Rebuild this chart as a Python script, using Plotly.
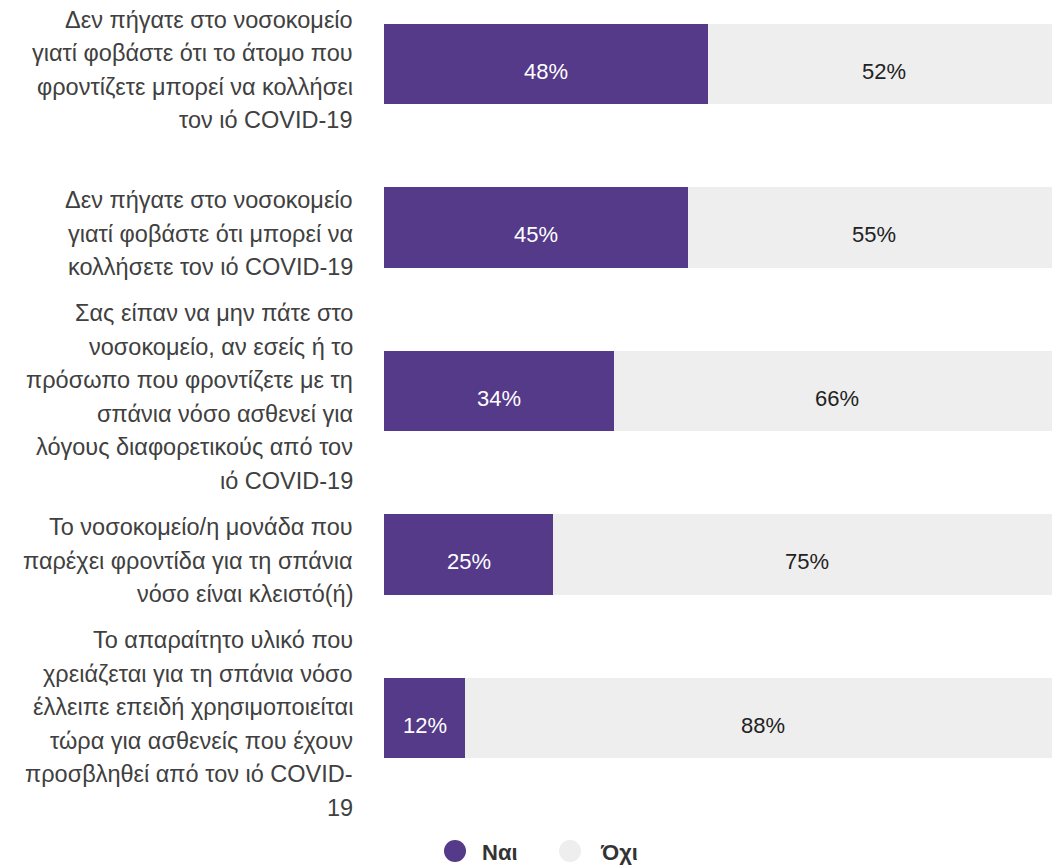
import plotly.graph_objects as go

# categories (top to bottom), wrapped as in the original
categories = [
    "Δεν πήγατε στο νοσοκομείο<br>γιατί φοβάστε ότι το άτομο που<br>φροντίζετε μπορεί να κολλήσει<br>τον ιό COVID-19",
    "Δεν πήγατε στο νοσοκομείο<br>γιατί φοβάστε ότι μπορεί να<br>κολλήσετε τον ιό COVID-19",
    "Σας είπαν να μην πάτε στο<br>νοσοκομείο, αν εσείς ή το<br>πρόσωπο που φροντίζετε με τη<br>σπάνια νόσο ασθενεί για<br>λόγους διαφορετικούς από τον<br>ιό COVID-19",
    "Το νοσοκομείο/η μονάδα που<br>παρέχει φροντίδα για τη σπάνια<br>νόσο είναι κλειστό(ή)",
    "Το απαραίτητο υλικό που<br>χρειάζεται για τη σπάνια νόσο<br>έλλειπε επειδή χρησιμοποιείται<br>τώρα για ασθενείς που έχουν<br>προσβληθεί από τον ιό COVID-<br>19",
]
yes_vals = [48, 45, 34, 25, 12]
no_vals = [52, 55, 66, 75, 88]
series_names = ["Ναι", "Όχι"]

PURPLE = "#553a8a"
GREY = "#eeeeee"
FONT = "Liberation Sans, Arial, sans-serif"
LINE_H = 33.5

# figure geometry (page has an 8px body margin)
W, H = 1052, 858
ML, MB = 376, 58
PW, PH = W - ML, H - MB

ypos = list(range(len(categories)))

fig = go.Figure()
fig.add_trace(go.Bar(
    y=ypos, x=yes_vals, orientation="h", name=series_names[0],
    marker=dict(color=PURPLE, line=dict(width=0)),
    showlegend=False, hoverinfo="skip",
))
fig.add_trace(go.Bar(
    y=ypos, x=no_vals, orientation="h", name=series_names[1],
    marker=dict(color=GREY, line=dict(width=0)),
    showlegend=False, hoverinfo="skip",
))

# value labels in the middle of each segment, sitting a little low like the original
for yi, a, b in zip(ypos, yes_vals, no_vals):
    for xc, v, col in [(a / 2, a, "white"), (a + b / 2, b, "#222222")]:
        fig.add_annotation(
            x=xc, y=yi, xref="x", yref="y", yshift=-7,
            text=f"{v}%", showarrow=False,
            font=dict(size=22, color=col, family=FONT),
        )

# category labels, one annotation per line so the line spacing matches
for yi, cat in zip(ypos, categories):
    lines = cat.split("<br>")
    n = len(lines)
    for i, ln in enumerate(lines):
        fig.add_annotation(
            x=0, xref="paper", xanchor="right", xshift=-29,
            y=yi, yref="y", yanchor="middle",
            yshift=((n - 1) / 2 - i) * LINE_H - 6,
            text=ln, showarrow=False,
            font=dict(size=23.5, color="#404040", family=FONT),
        )

# legend drawn by hand: round markers below the chart
def px_x(p):
    return (p - 8 - ML) / PW

def px_y(p):
    return (PH - (p - 8)) / PH

legend_items = [(series_names[0], PURPLE, 455, 480), (series_names[1], GREY, 570, 598)]
for name, col, cx, tx in legend_items:
    fig.add_shape(
        type="circle", xref="paper", yref="paper",
        xsizemode="pixel", ysizemode="pixel",
        xanchor=px_x(cx), yanchor=px_y(851),
        x0=-11, x1=11, y0=-11, y1=11,
        fillcolor=col, line=dict(width=0),
    )
    fig.add_annotation(
        x=px_x(tx), y=px_y(852), xref="paper", yref="paper",
        xanchor="left", yanchor="middle", text=f"<b>{name}</b>",
        showarrow=False, font=dict(size=22, color="#333333", family=FONT),
    )

fig.update_layout(
    width=W, height=H,
    margin=dict(l=ML, r=0, t=0, b=MB),
    barmode="stack", bargap=0.51,
    plot_bgcolor="white", paper_bgcolor="white",
    xaxis=dict(range=[0, 100], visible=False, fixedrange=True),
    yaxis=dict(range=[(PH - 56) / 163.5, -56 / 163.5], visible=False, fixedrange=True),
    showlegend=False,
    font=dict(family=FONT),
)

fig.write_html("out.html")
